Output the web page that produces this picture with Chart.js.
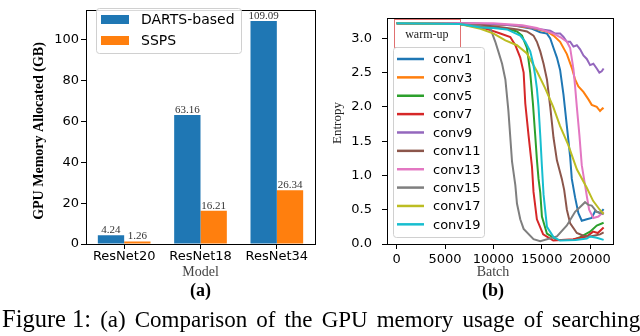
<!DOCTYPE html>
<html>
<head>
<meta charset="utf-8">
<script src="https://cdn.jsdelivr.net/npm/chart.js@4.4.1/dist/chart.umd.min.js"></script>
<style>
  html, body { margin: 0; padding: 0; background: #fff; }
  body { width: 640px; height: 336px; position: relative; overflow: hidden; }
  .panel { position: absolute; top: 0; width: 320px; height: 336px; }
  #caption { position: absolute; left: 2px; top: 305px; white-space: nowrap; font-family: 'Liberation Serif', serif; font-size: 23px; color: #000; word-spacing: 3.3px; }
  #caption .lead { font-size: 24.5px; word-spacing: 0; }
</style>
</head>
<body>
<div class="panel" style="left:0"><canvas id="chartMem"></canvas></div>
<div class="panel" style="left:320px"><canvas id="chartEnt"></canvas></div>
<div id="caption"><span class="lead">Figure 1:</span> (a) Comparison of the GPU memory usage of searching</div>
<script>
// ---- (a) memory per model ----
const models = ['ResNet20', 'ResNet18', 'ResNet34'];
const dartsMem = [4.24, 63.16, 109.09];
const sspsMem = [1.26, 16.21, 26.34];
const memTicks = [0, 20, 40, 60, 80, 100];

// ---- (b) entropy per layer, [batch, entropy] ----
const batchTicks = [0, 5000, 10000, 15000, 20000];
const entropyTicks = [0, 0.5, 1, 1.5, 2, 2.5, 3];
const layerNames = ['conv1', 'conv3', 'conv5', 'conv7', 'conv9', 'conv11', 'conv13', 'conv15', 'conv17', 'conv19'];

const conv1 = [[0,3.22],[6500,3.22],[9000,3.21],[12000,3.19],[14000,3.14],[14850,3.09],[15540,3.07],[15880,3.0],[16220,2.86],[16570,2.72],[16900,2.54],[17250,2.18],[17600,1.72],[17940,1.27],[18110,0.95],[18450,0.68],[18790,0.45],[19140,0.34],[19660,0.36],[20170,0.38],[20520,0.48],[21030,0.45],[21400,0.51]];
const conv3 = [[0,3.22],[6500,3.22],[9000,3.21],[12000,3.19],[14000,3.15],[15540,3.1],[16220,3.04],[16900,2.95],[17600,2.77],[18110,2.57],[18450,2.4],[18790,2.3],[19310,2.22],[19830,2.11],[20170,2.03],[20690,2.0],[21030,1.94],[21300,1.98],[21400,1.97]];
const conv5 = [[0,3.22],[6500,3.21],[8600,3.17],[10000,3.16],[11410,3.14],[12440,3.1],[12960,3.04],[13470,2.86],[13810,2.5],[14090,2.05],[14330,1.58],[14500,1.23],[14670,0.95],[14850,0.75],[15020,0.4],[15540,0.15],[16570,0.06],[18250,0.06],[18970,0.1],[20000,0.18],[20690,0.27],[21400,0.31]];
const conv7 = [[0,3.22],[6500,3.21],[8600,3.16],[9700,3.12],[10720,3.07],[11750,3.02],[12270,2.9],[12780,2.72],[13130,2.5],[13300,2.05],[13640,1.58],[13990,1.13],[14150,0.76],[14500,0.36],[15150,0.14],[16190,0.05],[18250,0.07],[19660,0.11],[20310,0.18],[20800,0.16],[21400,0.24]];
const conv9 = [[0,3.22],[6500,3.22],[10000,3.21],[13000,3.18],[14500,3.14],[15880,3.11],[16390,3.07],[16900,3.07],[17250,3.02],[17600,2.95],[17940,2.95],[18280,2.88],[18630,2.9],[18970,2.84],[19310,2.75],[19660,2.7],[20000,2.61],[20340,2.63],[20690,2.56],[20960,2.5],[21200,2.52],[21400,2.56]];
const conv11 = [[0,3.22],[6500,3.21],[9000,3.19],[11000,3.16],[12500,3.13],[13470,3.1],[14150,3.04],[14500,2.95],[14850,2.81],[15190,2.63],[15540,2.4],[15880,2.0],[16220,1.55],[16570,1.22],[17080,0.95],[17320,0.79],[17600,0.5],[17940,0.3],[18630,0.16],[19310,0.12],[20000,0.11],[21030,0.14],[21400,0.17]];
const conv13 = [[0,3.22],[6500,3.22],[10000,3.22],[13000,3.19],[14500,3.15],[16220,3.07],[16900,3.02],[17600,2.95],[17940,2.86],[18280,2.55],[18450,2.3],[18630,2.0],[18900,1.58],[19140,1.15],[19480,0.86],[19660,0.7],[19900,0.5],[20340,0.38],[20860,0.4],[21400,0.47]];
const conv15 = [[0,3.22],[6500,3.21],[8660,3.18],[9700,3.14],[10200,2.95],[10510,2.81],[10900,2.63],[11240,2.4],[11550,1.95],[11930,1.2],[12270,0.86],[12440,0.59],[12780,0.36],[13130,0.22],[14150,0.07],[14850,0.04],[16570,0.11],[17600,0.27],[18450,0.47],[18970,0.54],[19480,0.61],[19830,0.57],[20170,0.56],[20690,0.47],[21200,0.45],[21400,0.43]];
const conv17 = [[0,3.22],[6500,3.21],[8660,3.14],[10030,3.07],[11240,2.97],[12440,2.9],[13470,2.78],[14500,2.52],[15360,2.27],[16190,2.0],[16900,1.72],[17730,1.45],[18630,1.09],[19660,0.82],[20310,0.63],[21000,0.5],[21400,0.44]];
const conv19 = [[0,3.22],[6500,3.21],[8660,3.16],[10000,3.15],[11410,3.13],[12780,3.04],[13300,2.95],[13810,2.81],[14120,2.63],[14330,2.45],[14500,2.27],[14670,2.0],[14850,1.58],[15020,1.13],[15190,0.72],[15540,0.25],[16220,0.1],[16900,0.05],[18500,0.06],[19660,0.08],[20000,0.11],[20690,0.09],[21400,0.06]];
const layerSeries = [conv1, conv3, conv5, conv7, conv9, conv11, conv13, conv15, conv17, conv19];

const warmupBatches = [-280, 6520];
const warmupEntropy = [2.88, 3.3];

const tab10 = ['#1f77b4', '#ff7f0e', '#2ca02c', '#d62728', '#9467bd', '#8c564b', '#e377c2', '#7f7f7f', '#bcbd22', '#17becf'];
const tickFont = { family: 'DejaVu Sans', size: 13 };

// spines on all four sides
const frame = {
  id: 'frame',
  afterDatasetsDraw(chart) {
    const a = chart.chartArea, ctx = chart.ctx;
    ctx.save();
    ctx.strokeStyle = '#000';
    ctx.lineWidth = 1;
    ctx.strokeRect(Math.round(a.left) + 0.5, Math.round(a.top) + 0.5, Math.round(a.right - a.left), Math.round(a.bottom - a.top));
    ctx.restore();
  }
};

// free text: axis titles, panel tags
const texts = {
  id: 'texts',
  afterDraw(chart, args, opts) {
    const ctx = chart.ctx;
    (opts.items || []).forEach(t => {
      ctx.save();
      ctx.font = t.font;
      ctx.fillStyle = t.color || '#000';
      ctx.textAlign = 'center';
      ctx.textBaseline = 'middle';
      ctx.translate(t.x, t.y);
      if (t.rotate) ctx.rotate(t.rotate);
      ctx.fillText(t.text, 0, 0);
      ctx.restore();
    });
  }
};

// matplotlib-like boxed legend
const boxLegend = {
  id: 'boxLegend',
  afterDraw(chart, args, o) {
    if (!o.box) return;
    const ctx = chart.ctx, b = o.box;
    ctx.save();
    ctx.beginPath();
    ctx.roundRect(b[0] + 0.5, b[1] + 0.5, b[2], b[3], 3);
    ctx.fillStyle = 'rgba(255,255,255,0.85)';
    ctx.fill();
    ctx.strokeStyle = '#d0d0d0';
    ctx.lineWidth = 1;
    ctx.stroke();
    ctx.font = o.font;
    ctx.textBaseline = 'middle';
    chart.data.datasets.forEach((ds, i) => {
      const y = o.y0 + i * o.dy;
      if (o.kind === 'rect') {
        ctx.fillStyle = ds.backgroundColor;
        ctx.fillRect(o.x0, y - 4.5, o.w, 9);
      } else {
        ctx.strokeStyle = ds.borderColor;
        ctx.lineWidth = 2.5;
        ctx.beginPath();
        ctx.moveTo(o.x0, y);
        ctx.lineTo(o.x0 + o.w, y);
        ctx.stroke();
      }
      ctx.fillStyle = '#000';
      ctx.fillText(ds.label, o.tx, y + 1);
    });
    ctx.restore();
  }
};

// values printed above bars
const barValues = {
  id: 'barValues',
  afterDatasetsDraw(chart) {
    const ctx = chart.ctx;
    ctx.save();
    ctx.font = '11px "Liberation Serif"';
    ctx.fillStyle = '#333';
    ctx.textAlign = 'center';
    ctx.textBaseline = 'alphabetic';
    chart.data.datasets.forEach((ds, i) => {
      chart.getDatasetMeta(i).data.forEach((el, j) => {
        ctx.fillText(ds.data[j].toFixed(2), el.x, el.y - 2);
      });
    });
    ctx.restore();
  }
};

// warm-up annotation box
const warmup = {
  id: 'warmup',
  beforeDatasetsDraw(chart) {
    const x = chart.scales.x, y = chart.scales.y, ctx = chart.ctx;
    const l = x.getPixelForValue(warmupBatches[0]), r = x.getPixelForValue(warmupBatches[1]);
    const b = y.getPixelForValue(warmupEntropy[0]), t = y.getPixelForValue(warmupEntropy[1]) + 1;
    ctx.save();
    ctx.strokeStyle = '#e07070';
    ctx.lineWidth = 1;
    ctx.strokeRect(Math.round(l) + 0.5, Math.round(t) + 0.5, Math.round(r - l), Math.round(b - t));
    ctx.font = '12px "Liberation Serif"';
    ctx.fillStyle = '#222';
    ctx.textAlign = 'center';
    ctx.textBaseline = 'middle';
    ctx.fillText('warm-up', (l + r) / 2, (t + b) / 2 + 2);
    ctx.restore();
  }
};

function axisGrid() {
  return { display: true, drawOnChartArea: false, drawTicks: true, tickLength: 5, tickColor: '#000', offset: false };
}

new Chart(document.getElementById('chartMem').getContext('2d'), {
  type: 'bar',
  data: {
    labels: models,
    datasets: [
      { label: 'DARTS-based', data: dartsMem, backgroundColor: '#1f77b4', borderWidth: 0, categoryPercentage: 0.69, barPercentage: 1 },
      { label: 'SSPS', data: sspsMem, backgroundColor: '#ff7f0e', borderWidth: 0, categoryPercentage: 0.69, barPercentage: 1 }
    ]
  },
  plugins: [frame, texts, boxLegend, barValues],
  options: {
    responsive: true,
    maintainAspectRatio: false,
    animation: false,
    layout: { padding: { left: 0, top: 1, right: 5, bottom: 62 } },
    plugins: {
      legend: { display: false },
      tooltip: { enabled: false },
      boxLegend: { box: [96, 8, 145, 45], kind: 'rect', x0: 101, w: 28, y0: 19.5, dy: 21, tx: 141, font: '14px "DejaVu Sans"' },
      texts: { items: [
        { text: 'GPU Memory Allocated (GB)', x: 39, y: 131, font: 'bold 14px "Liberation Serif"', rotate: -Math.PI / 2 },
        { text: 'Model', x: 200.5, y: 272, font: '14px "Liberation Serif"', color: '#444' },
        { text: '(a)', x: 200.5, y: 291, font: 'bold 18px "Liberation Serif"' }
      ] }
    },
    scales: {
      x: {
        grid: axisGrid(),
        border: { display: false },
        ticks: { color: '#000', font: tickFont, padding: 0, maxRotation: 0, autoSkip: false },
        afterFit: s => { s.height = 30; }
      },
      y: {
        min: 0, max: 114.6,
        grid: axisGrid(),
        border: { display: false },
        ticks: { color: '#000', font: tickFont, padding: 2 },
        afterBuildTicks: s => { s.ticks = memTicks.map(v => ({ value: v })); },
        afterFit: s => { s.width = 86; }
      }
    }
  }
});

const n = layerSeries.length;
new Chart(document.getElementById('chartEnt').getContext('2d'), {
  type: 'line',
  data: {
    datasets: layerSeries.map((pts, i) => ({
      label: layerNames[i],
      data: pts.map(p => ({ x: p[0], y: p[1] })),
      borderColor: tab10[i],
      backgroundColor: tab10[i],
      borderWidth: 2,
      pointRadius: 0,
      tension: 0,
      order: n - i
    }))
  },
  plugins: [warmup, frame, texts, boxLegend],
  options: {
    responsive: true,
    maintainAspectRatio: false,
    animation: false,
    layout: { padding: { left: 0, top: 1, right: 27, bottom: 62 } },
    plugins: {
      legend: { display: false },
      tooltip: { enabled: false },
      boxLegend: { box: [73, 47, 91, 190], kind: 'line', x0: 77, w: 27, y0: 59, dy: 18.37, tx: 113, font: '13px "DejaVu Sans"' },
      texts: { items: [
        { text: 'Entropy', x: 18, y: 123, font: '13px "Liberation Serif"', rotate: -Math.PI / 2, color: '#222' },
        { text: 'Batch', x: 173, y: 272, font: '14px "Liberation Serif"', color: '#444' },
        { text: '(b)', x: 173, y: 291, font: 'bold 18px "Liberation Serif"' }
      ] }
    },
    scales: {
      x: {
        type: 'linear', min: -1000, max: 22370,
        grid: axisGrid(),
        border: { display: false },
        ticks: { color: '#000', font: tickFont, padding: 3, maxRotation: 0, callback: v => String(v) },
        afterBuildTicks: s => { s.ticks = batchTicks.map(v => ({ value: v })); },
        afterFit: s => { s.height = 30; }
      },
      y: {
        min: 0, max: 3.3,
        grid: axisGrid(),
        border: { display: false },
        ticks: { color: '#000', font: tickFont, padding: 10, callback: v => v.toFixed(1) },
        afterBuildTicks: s => { s.ticks = entropyTicks.map(v => ({ value: v })); },
        afterFit: s => { s.width = 67; }
      }
    }
  }
});
</script>
</body>
</html>
